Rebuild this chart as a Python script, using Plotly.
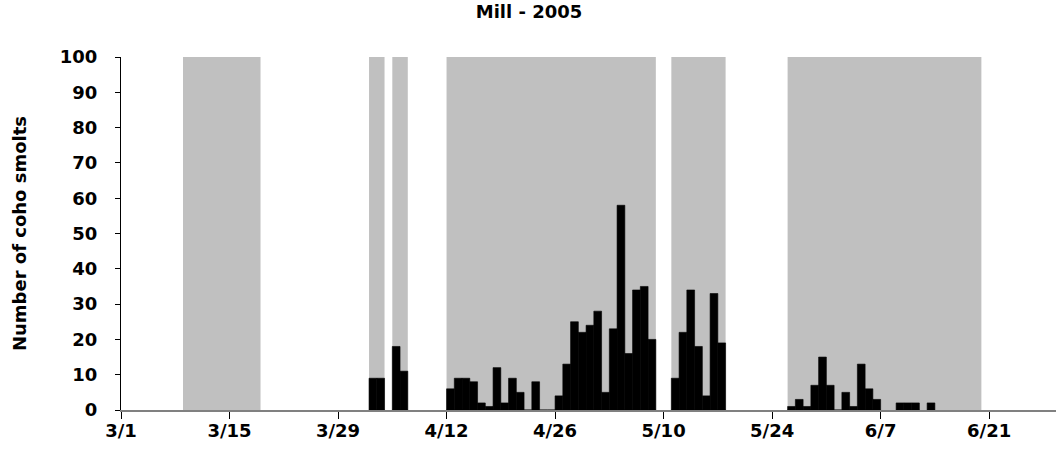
import pandas as pd
import plotly.graph_objects as go

# Trapping periods (grey bands, drawn as full-height bars)
band_starts = ["2005-03-09", "2005-04-02", "2005-04-05", "2005-04-12", "2005-05-11", "2005-05-26"]
band_ends   = ["2005-03-18", "2005-04-03", "2005-04-06", "2005-05-08", "2005-05-17", "2005-06-19"]
band_height = 100

# Daily coho smolt counts
count_dates = [
    "2005-04-02", "2005-04-03", "2005-04-05", "2005-04-06",
    "2005-04-12", "2005-04-13", "2005-04-14", "2005-04-15", "2005-04-16", "2005-04-17",
    "2005-04-18", "2005-04-19", "2005-04-20", "2005-04-21", "2005-04-22", "2005-04-23",
    "2005-04-24", "2005-04-25", "2005-04-26", "2005-04-27", "2005-04-28", "2005-04-29",
    "2005-04-30", "2005-05-01", "2005-05-02", "2005-05-03", "2005-05-04", "2005-05-05",
    "2005-05-06", "2005-05-07", "2005-05-08",
    "2005-05-11", "2005-05-12", "2005-05-13", "2005-05-14", "2005-05-15", "2005-05-16", "2005-05-17",
    "2005-05-26", "2005-05-27", "2005-05-28", "2005-05-29", "2005-05-30", "2005-05-31",
    "2005-06-01", "2005-06-02", "2005-06-03", "2005-06-04", "2005-06-05", "2005-06-06",
    "2005-06-09", "2005-06-10", "2005-06-11", "2005-06-13",
]
counts = [
    9, 9, 18, 11,
    6, 9, 9, 8, 2, 1,
    12, 2, 9, 5, 0, 8,
    0, 0, 4, 13, 25, 22,
    24, 28, 5, 23, 58, 16,
    34, 35, 20,
    9, 22, 34, 18, 4, 33, 19,
    1, 3, 1, 7, 15, 7,
    0, 5, 1, 13, 6, 3,
    2, 2, 2, 2,
]

title_text = "Mill - 2005"
y_title = "Number of coho smolts"
x_start = "2005-03-01"
x_end = "2005-06-29 15:00"

DAY_MS = 86400000

# one bar per trapping period, spanning whole days
band_widths = [
    ((pd.Timestamp(e) - pd.Timestamp(s)).days + 1) * DAY_MS
    for s, e in zip(band_starts, band_ends)
]

FONT = "DejaVu Sans"

fig = go.Figure()
fig.add_trace(go.Bar(
    x=band_starts, y=[band_height] * len(band_starts),
    width=band_widths, offset=0,
    marker=dict(color="#C0C0C0", line=dict(width=0)),
    name="Trapping", showlegend=False, hoverinfo="x",
))
fig.add_trace(go.Bar(
    x=count_dates, y=counts,
    width=DAY_MS, offset=0,
    marker=dict(color="#000000", line=dict(width=0.6, color="#000000")),
    name="Coho smolts", showlegend=False,
))

fig.update_layout(
    width=1058, height=460,
    margin=dict(l=121, r=2, t=57, b=50, autoexpand=False),
    paper_bgcolor="white", plot_bgcolor="white",
    barmode="overlay",
    title=dict(text=title_text, x=0.5, xref="container", xanchor="center",
               y=0.974, yref="container", yanchor="middle",
               font=dict(family=FONT, size=18, color="black", weight="bold")),
    font=dict(family=FONT, color="black"),
)
fig.update_xaxes(
    type="date", range=[x_start, x_end], automargin=False,
    tick0=x_start, dtick=14 * DAY_MS, tickformat="%-m/%-d",
    ticks="outside", ticklen=7, tickwidth=1, tickcolor="black",
    showline=True, linecolor="#808080", linewidth=2,
    showgrid=False, zeroline=False,
    tickfont=dict(family=FONT, size=18, color="black", weight="bold"),
    ticklabelstandoff=-4,
)
fig.update_yaxes(
    range=[0, 100], dtick=10, tick0=0, automargin=False,
    ticks="outside", ticklen=5, tickwidth=1, tickcolor="black",
    showline=True, linecolor="black", linewidth=1,
    showgrid=False, zeroline=False,
    tickfont=dict(family=FONT, size=18, color="black", weight="bold"),
    ticklabelstandoff=14,
    title=dict(text=y_title, standoff=28,
               font=dict(family=FONT, size=18, color="black", weight="bold")),
)

fig.write_html(
    "out.html",
    config={"displayModeBar": False},
    post_script="document.body.style.margin='0';document.body.style.overflow='hidden';",
)
